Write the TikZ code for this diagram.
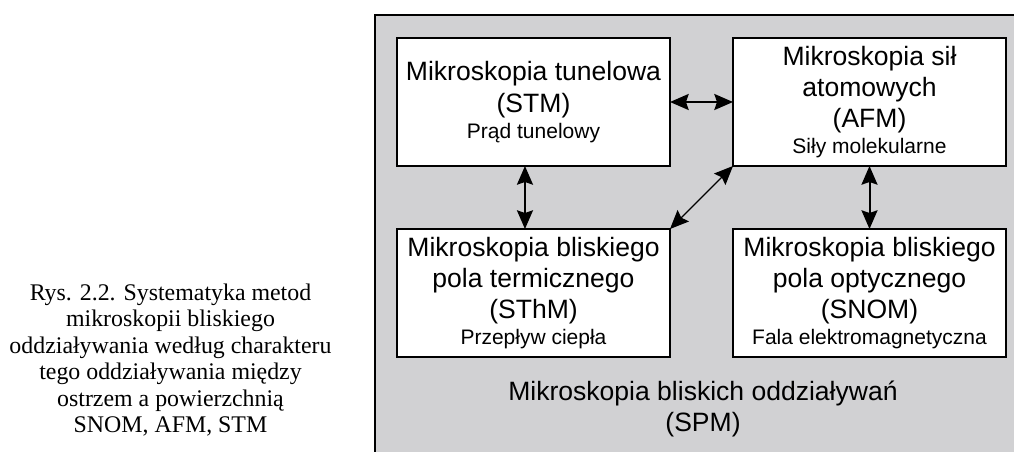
\documentclass[tikz,border=0pt]{standalone}
\usepackage{fontspec}
\setmainfont{Liberation Sans}
\newfontfamily\rysfont{Liberation Serif}
\usetikzlibrary{arrows.meta,positioning}
\definecolor{tlo}{RGB}{209,209,211}
\newcommand{\duzy}{\fontsize{19.9pt}{23.5pt}\selectfont}
\newcommand{\maly}{\fontsize{15.75pt}{19pt}\selectfont}

\begin{document}
\begin{tikzpicture}[x=0.75pt, y=-0.75pt, node distance=47.25pt,
  box/.style={draw, fill=white, line width=1.3pt, minimum width=204.75pt, minimum height=96pt, align=center, inner sep=0pt, outer sep=0pt, font=\duzy},
  dwu/.style={{Stealth[length=14pt,width=12pt,inset=2pt]}-{Stealth[length=14pt,width=12pt,inset=2pt]}, line width=1.5pt}]
\useasboundingbox (0,0) rectangle (1014,452);
% tlo SPM
\filldraw[fill=tlo, draw=black, line width=1.5pt] (375,15) rectangle (1040,480);

\node[box] (stm) at (533.5,102) {Mikroskopia tunelowa\\(STM)\\[-4pt]\maly Prąd tunelowy};
\node[box, right=of stm] (afm) {Mikroskopia sił\\atomowych\\(AFM)\\[-4pt]\maly Siły molekularne};
\node[box, below=of stm] (sthm) {Mikroskopia bliskiego\\pola termicznego\\(SThM)\\[-4pt]\maly Przepływ ciepła};
\node[box, below=of afm] (snom) {Mikroskopia bliskiego\\pola optycznego\\(SNOM)\\[-4pt]\maly Fala elektromagnetyczna};

\node[align=center, font=\duzy] (spm) at (703,409) {Mikroskopia bliskich oddziaływań\\(SPM)};

\node[align=center, font=\rysfont\fontsize{17.9pt}{19.8pt}\selectfont] (rys) at (170.5,360)
  {Rys. 2.2. Systematyka metod\\mikroskopii bliskiego\\oddziaływania według charakteru\\tego oddziaływania między\\ostrzem a powierzchnią\\SNOM, AFM, STM};

\draw[dwu] (stm) -- (afm);
\draw[dwu] ([xshift=-6.4pt]stm.south) -- ([xshift=-6.4pt]sthm.north);
\draw[dwu] (afm) -- (snom);
\draw[dwu, line width=1pt] (afm.south west) -- (sthm.north east);
\end{tikzpicture}
\end{document}
